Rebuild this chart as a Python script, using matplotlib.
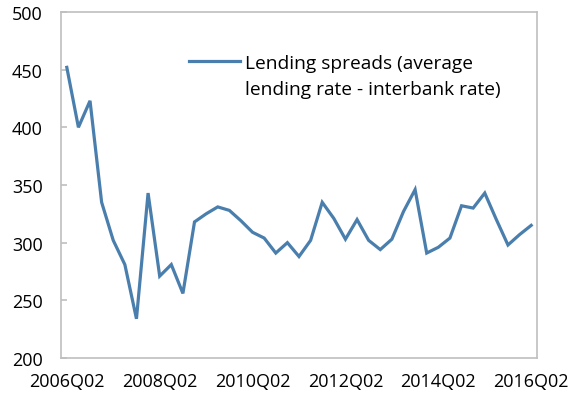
import numpy as np
import matplotlib
matplotlib.use('Agg')
import matplotlib.pyplot as plt
from matplotlib.lines import Line2D

# Quarterly lending spreads, 2006Q2 - 2016Q2 (basis points)
quarters = ['%dQ%02d' % (2006 + (q + 1) // 4, (q + 1) % 4 + 1) for q in range(41)]
spreads = [452, 400, 423, 335, 302, 281, 234, 343, 271, 281,
           256, 318, 325, 331, 328, 319, 309, 304, 291, 300,
           288, 302, 335, 321, 303, 320, 302, 294, 303, 327,
           346, 291, 296, 304, 332, 330, 343, 320, 298, 307,
           315]
label_lines = ['Lending spreads (average', 'lending rate - interbank rate)']
tick_every = 8

plt.rcParams['font.family'] = ['Open Sans', 'DejaVu Sans']

fig = plt.figure(figsize=(5.71, 4.02), dpi=100)
ax = fig.add_axes([61 / 571, 1 - 359 / 402, 476 / 571, 346 / 402])

x = np.arange(len(spreads))
line, = ax.plot(x, spreads, color='#4a7fad', lw=2.3, solid_joinstyle='miter')

ax.set_xlim(-0.5, len(spreads) - 0.5)
ax.set_ylim(200, 500)
ax.set_yticks(range(200, 501, 50))
ax.set_xticks(x[::tick_every])
ax.set_xticklabels([quarters[i] for i in x[::tick_every]])

for s in ax.spines.values():
    s.set_color('#bfbfbf')
    s.set_linewidth(1.2)
ax.tick_params(axis='y', direction='in', length=4, width=1.2, color='#bfbfbf',
               labelsize=13, pad=13)
ax.tick_params(axis='x', length=0, labelsize=13, pad=10)

# two-row legend so the handle sits on the first text line
blank = Line2D([], [], lw=0)
ax.legend([line, blank], label_lines, loc='upper left', bbox_to_anchor=(0.253, 0.902),
          frameon=False, fontsize=13.8, handlelength=2.65, handletextpad=0.28,
          labelspacing=0.42, borderaxespad=0)

fig.savefig('out.png', dpi=100)
